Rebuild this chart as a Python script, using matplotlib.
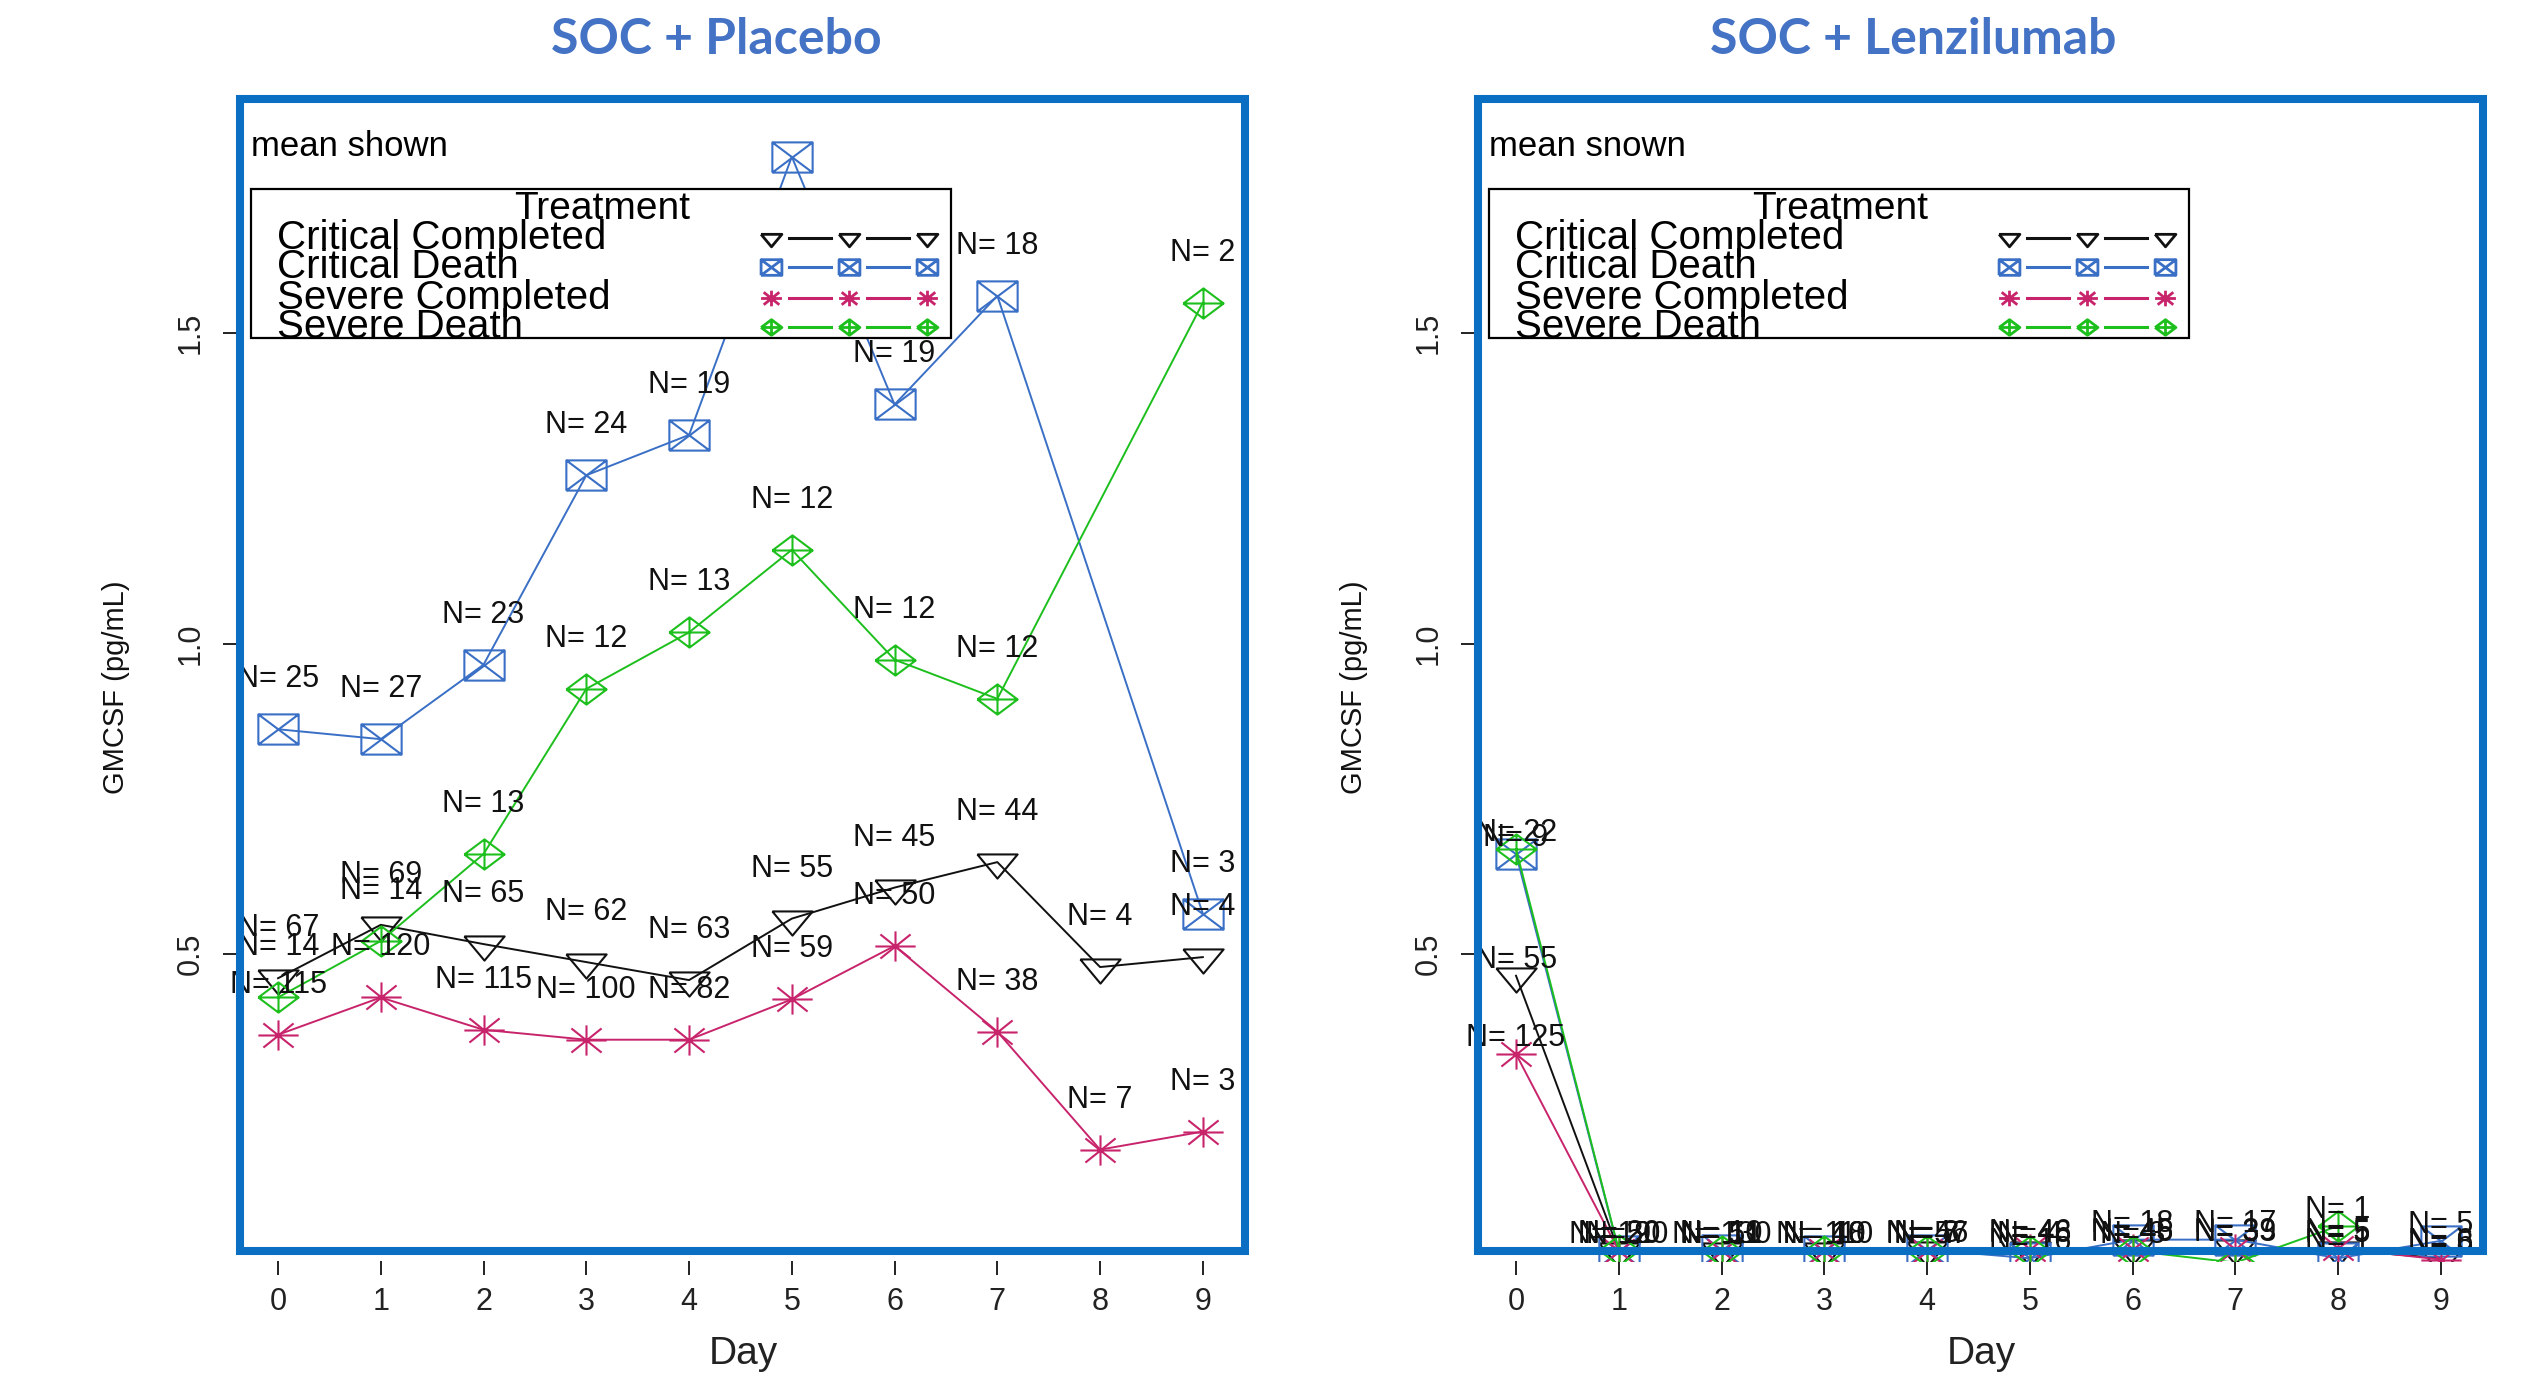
import numpy as np
import matplotlib
matplotlib.use("Agg")
import matplotlib.pyplot as plt
from matplotlib.path import Path
from matplotlib.patches import Rectangle
from matplotlib.lines import Line2D

plt.rcParams['font.family'] = ['Liberation Sans', 'DejaVu Sans']

# ---- data -------------------------------------------------------------
days = np.arange(10)
groups = ["Critical Completed", "Critical Death", "Severe Completed", "Severe Death"]

# SOC + Placebo, mean GMCSF (pg/mL) per day and N per point
pla_crit_comp = [0.461, 0.547, 0.516, 0.487, 0.458, 0.557, 0.607, 0.648, 0.479, 0.495]
pla_crit_death = [0.862, 0.846, 0.966, 1.271, 1.336, 1.784, 1.385, 1.560, np.nan, 0.565]
pla_sev_comp = [0.370, 0.430, 0.378, 0.362, 0.362, 0.427, 0.513, 0.375, 0.185, 0.214]
pla_sev_death = [0.430, 0.521, 0.661, 0.927, 1.018, 1.151, 0.974, 0.911, np.nan, 1.549]
pla_n_crit_comp = [67, 69, 65, 62, 63, 55, 45, 44, 4, 4]
pla_n_crit_death = [25, 27, 23, 24, 19, None, 19, 18, None, 3]
pla_n_sev_comp = [115, 120, 115, 100, 82, 59, 50, 38, 7, 3]
pla_n_sev_death = [14, 14, 13, 12, 13, 12, 12, 12, None, 2]

# SOC + Lenzilumab
len_crit_comp = [0.465, 0.022, 0.022, 0.022, 0.023, 0.023, 0.026, 0.026, 0.024, 0.010]
len_crit_death = [0.661, 0.022, 0.023, 0.022, 0.024, 0.010, 0.040, 0.040, 0.010, 0.038]
len_sev_comp = [0.339, 0.022, 0.022, 0.022, 0.022, 0.025, 0.025, 0.025, 0.026, 0.008]
len_sev_death = [0.669, 0.023, 0.022, 0.022, 0.022, 0.022, 0.022, 0.003, 0.062, np.nan]
len_n_crit_comp = [55, 50, 51, 48, 46, 48, 45, 39, 5, 6]
len_n_crit_death = [9, 9, 10, 10, 8, 16, 18, 17, 1, 5]
len_n_sev_comp = [125, 120, 130, 110, 57, 46, 46, 33, 5, 8]
len_n_sev_death = [22, 20, 11, 10, 7, 4, 3, 3, 1, None]

colors = ["#111111", "#3a6fc6", "#c8246c", "#1dbf1d"]
yticks = [0.5, 1.0, 1.5]
ytick_labels = ["0.5", "1.0", "1.5"]


# ---- R style plotting symbols ----------------------------------------
def seg_path(*polys):
    verts, codes = [], []
    for poly in polys:
        for i, p in enumerate(poly):
            verts.append(p)
            codes.append(Path.MOVETO if i == 0 else Path.LINETO)
    return Path(verts, codes)

tri_down = seg_path([(-20, 8), (20, 8), (0, -16), (-20, 8)])
box_x = seg_path([(-20, -15), (20, -15), (20, 15), (-20, 15), (-20, -15)],
                 [(-20, -15), (20, 15)], [(-20, 15), (20, -15)])
aster = seg_path([(-20, 0), (20, 0)], [(0, -15), (0, 15)],
                 [(-15, -12), (15, 12)], [(-15, 12), (15, -12)])
dia_plus = seg_path([(-20, 0), (0, 15), (20, 0), (0, -15), (-20, 0)],
                    [(-20, 0), (20, 0)], [(0, -15), (0, 15)])
markers = [tri_down, box_x, aster, dia_plus]

W, H = 2536, 1373
fig = plt.figure(figsize=(W / 100, H / 100), dpi=100)

AX_W = 1006
AX_TOP, AX_BOT = 99, 1261
BORDER_BOT = 1251


def fx(px):
    return px / W


def fy(py):
    return 1 - py / H


def draw_panel(x0, title, title_x, mean_text, series, counts, lab_off):
    ax = fig.add_axes([fx(x0), fy(AX_BOT), AX_W / W, (AX_BOT - AX_TOP) / H])
    ax.set_xlim(-0.37, 9.42)
    ax.set_ylim(0.0056, 1.877)
    for s in ax.spines.values():
        s.set_visible(False)
    ax.set_xticks(days)
    ax.set_yticks(yticks)
    ax.set_yticklabels(ytick_labels)
    ax.tick_params(axis='x', length=10, width=1.4, pad=9, labelsize=22, colors='#222222')
    ax.tick_params(axis='y', length=12, width=1.4, pad=13, labelsize=22,
                   labelrotation=90, colors='#222222')
    for lab in ax.get_yticklabels():
        lab.set_va('center')

    for vals, ns, col, mk in zip(series, counts, colors, markers):
        y = np.array(vals, dtype=float)
        ok = ~np.isnan(y)
        ax.plot(days[ok], y[ok], color=col, lw=1.4, marker=mk, ms=29,
                mfc='none', mec=col, mew=1.5, zorder=3)
        for d, v, n in zip(days, y, ns):
            if n is None or np.isnan(v):
                continue
            ax.annotate("N= %d" % n, (d, v), xytext=(0, lab_off),
                        textcoords='offset pixels', ha='center', va='center',
                        fontsize=22, color='#111111', zorder=4)

    # text in the upper left corner
    tf = fig.transFigure
    ax.text(fx(x0 + 11), fy(AX_TOP + 48), mean_text, transform=tf,
            ha='left', va='center', fontsize=25, zorder=5)

    # hand drawn legend box
    lx0, lx1, ly0, ly1 = x0 + 11, x0 + 711, AX_TOP + 90, AX_TOP + 239
    box = Rectangle((fx(lx0), fy(ly1)), (lx1 - lx0) / W, (ly1 - ly0) / H,
                    transform=tf, facecolor='white', edgecolor='black',
                    lw=1.6, zorder=20, clip_on=False)
    ax.add_patch(box)
    ax.text(fx(x0 + 362), fy(AX_TOP + 110), "Treatment", transform=tf,
            ha='center', va='center', fontsize=28, zorder=21)
    row_y = [139, 168, 199, 228]
    sym_x = [531, 609, 687]
    for name, ry, col, mk in zip(groups, row_y, colors, markers):
        t = ax.text(fx(x0 + 37), fy(AX_TOP + ry), name, transform=tf,
                    ha='left', va='center', fontsize=29, zorder=21)
        t.set_clip_path(box)
        ax.plot([fx(x0 + sx) for sx in sym_x], [fy(AX_TOP + ry)] * 3,
                transform=tf, ls='none', marker=mk, ms=15, mfc='none',
                mec=col, mew=2.0, clip_on=False, zorder=22)
        for a, b in zip(sym_x[:-1], sym_x[1:]):
            ax.add_line(Line2D([fx(x0 + a + 18), fx(x0 + b - 18)],
                               [fy(AX_TOP + ry)] * 2, transform=tf,
                               color=col, lw=2.2, clip_on=False, zorder=22))

    # blue frame around the plot region
    fig.add_artist(Rectangle((fx(x0), fy(BORDER_BOT)), (AX_W - 1) / W,
                             (BORDER_BOT - AX_TOP) / H, transform=tf,
                             facecolor='none', edgecolor='#0a6fc2', lw=5.8,
                             zorder=30))

    fig.text(fx(title_x), fy(39), title, ha='center', va='center',
             fontsize=36, fontweight='bold', color='#4472c4', family='Lato')
    fig.text(fx(x0 + AX_W / 2), fy(1354), "Day", ha='center', va='center',
             fontsize=28, color='#222222')
    fig.text(fx(x0 - 124), fy(687), "GMCSF (pg/mL)", rotation=90,
             ha='center', va='center', fontsize=21, color='#111111')
    return ax


draw_panel(240, "SOC + Placebo", 716, "mean shown",
           [pla_crit_comp, pla_crit_death, pla_sev_comp, pla_sev_death],
           [pla_n_crit_comp, pla_n_crit_death, pla_n_sev_comp, pla_n_sev_death],
           50)
draw_panel(1478, "SOC + Lenzilumab", 1913, "mean snown",
           [len_crit_comp, len_crit_death, len_sev_comp, len_sev_death],
           [len_n_crit_comp, len_n_crit_death, len_n_sev_comp, len_n_sev_death],
           16)

fig.savefig("out.png", dpi=100, facecolor='white')
